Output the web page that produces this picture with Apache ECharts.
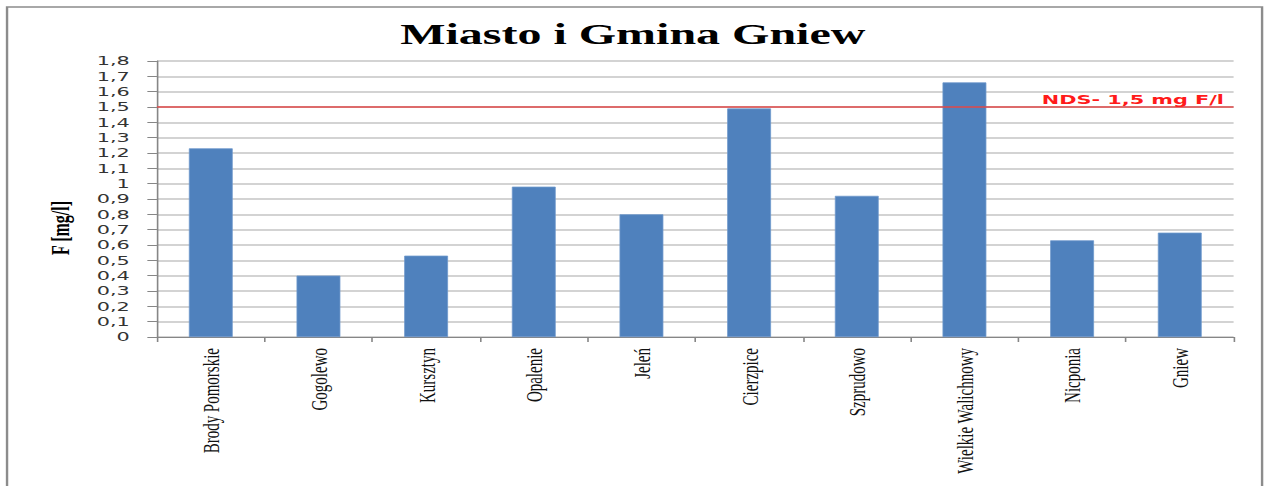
<!DOCTYPE html>
<html>
<head>
<meta charset="utf-8">
<script src="https://cdn.jsdelivr.net/npm/echarts@6/dist/echarts.min.js"></script>
<style>
html,body{margin:0;padding:0;background:#fff;overflow:hidden;}
#wrap{width:1265px;height:486px;overflow:hidden;position:relative;}
#chart{width:790.625px;height:486px;transform:scaleX(1.6);transform-origin:0 0;position:absolute;left:0;top:0;}
</style>
</head>
<body>
<div id="wrap"><div id="chart"></div></div>
<script>
const titleText = 'Miasto i Gmina Gniew';
const yAxisTitle = 'F [mg/l]';
const categories = ['Brody Pomorskie','Gogolewo','Kursztyn','Opalenie','Jeleń','Cierzpice','Szprudowo','Wielkie Walichnowy','Nicponia','Gniew'];
const values = [1.23,0.40,0.53,0.98,0.80,1.49,0.92,1.66,0.63,0.68];
const limitValue = 1.5;
const limitLabel = 'NDS- 1,5 mg F/l';
const yMin = 0, yMax = 1.8, yStep = 0.1;

const chart = echarts.init(document.getElementById('chart'), null, {renderer:'svg'});
chart.setOption({
  backgroundColor:'#ffffff',
  animation:false,
  title:{
    text:titleText, left:'center', top:14,
    textStyle:{fontFamily:'Liberation Serif', fontWeight:'bold', fontSize:30, color:'#000'}
  },
  graphic:[
    {type:'rect', shape:{x:4.4, y:7, width:784.4, height:520}, style:{fill:'none', stroke:'#8c8c8c', lineWidth:1.5}, silent:true},
    {type:'text', x:38, y:228, rotation:Math.PI/2,
     style:{text:yAxisTitle, font:'bold 16px "Liberation Serif"', fill:'#000', textAlign:'center', textVerticalAlign:'middle'}}
  ],
  grid:{left:98.1, right:20, top:61, bottom:149, containLabel:false},
  xAxis:{
    type:'category', data:categories,
    axisLine:{lineStyle:{color:'#868686', width:1}},
    axisTick:{show:true, alignWithLabel:false, length:5, lineStyle:{color:'#868686'}},
    axisLabel:{rotate:90, margin:11, interval:0, fontFamily:'Liberation Serif', fontSize:15, color:'#111'}
  },
  yAxis:{
    type:'value', min:yMin, max:yMax, interval:yStep,
    axisLine:{show:true, lineStyle:{color:'#868686', width:1}},
    axisTick:{show:true, length:6, lineStyle:{color:'#868686'}},
    splitLine:{show:true, lineStyle:{color:'#c4c4c4', width:1.5}},
    axisLabel:{margin:17, fontFamily:'DejaVu Sans', fontSize:13, color:'#333',
      formatter:v => String(+(+v).toFixed(1)).replace('.', ',')}
  },
  series:[{
    type:'bar', data:values, barWidth:27.5,
    itemStyle:{color:'#4F81BD', borderColor:'#6d98cc', borderWidth:0.6},
    markLine:{
      silent:true, symbol:['none','none'],
      lineStyle:{color:'#e04848', width:1.5, type:'solid'},
      label:{show:true, position:'insideEndTop', formatter:limitLabel, distance:[6,1],
        color:'#ff1a1a', fontFamily:'DejaVu Sans', fontWeight:'bold', fontSize:13},
      data:[{yAxis:limitValue}]
    }
  }]
});
</script>
</body>
</html>
